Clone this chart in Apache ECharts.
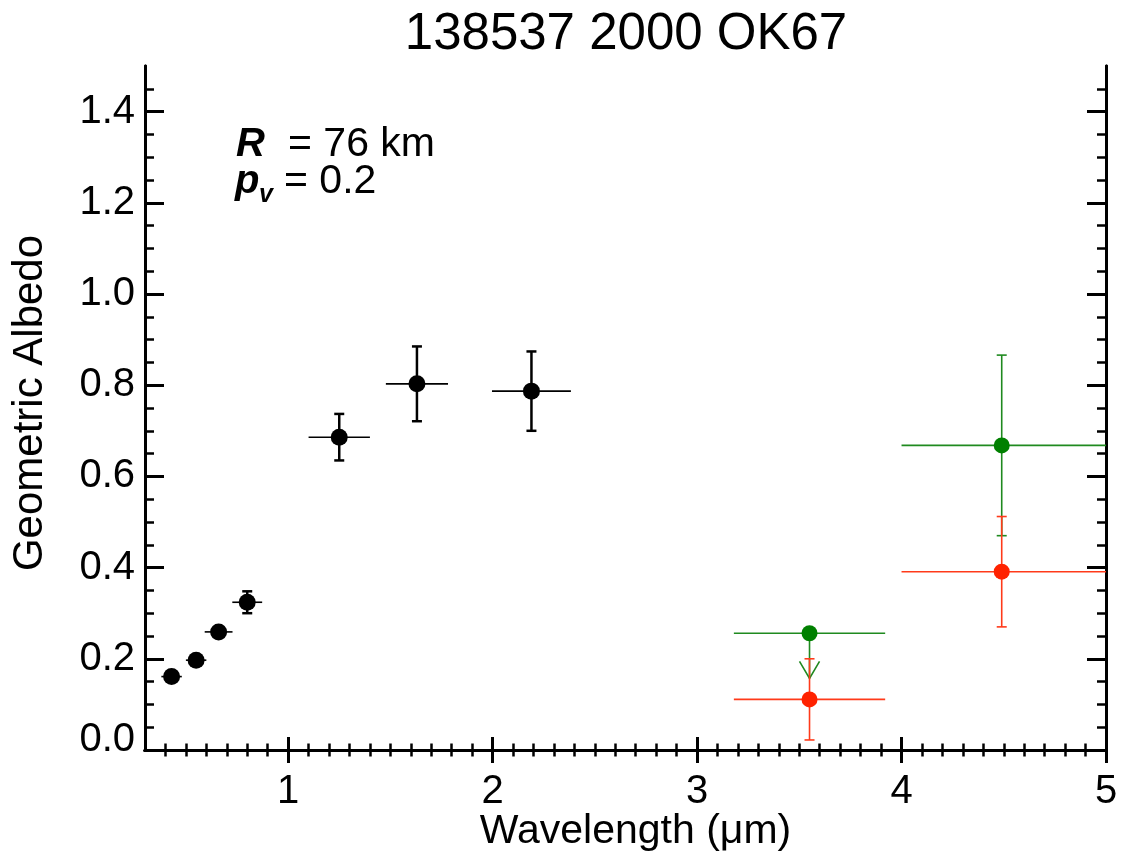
<!DOCTYPE html>
<html><head><meta charset="utf-8">
<script src="https://cdn.jsdelivr.net/npm/echarts@6/dist/echarts.min.js"></script>
<style>html,body{margin:0;padding:0;background:#fff}#c{width:1122px;height:859px}</style>
</head><body><div id="c"></div>
<script>
// ---- data ----
const titleText = '138537 2000 OK67';
const xAxisName = 'Wavelength (\u03bcm)';
const yAxisName = 'Geometric Albedo';
const xMajorTicks = [1, 2, 3, 4, 5];
const yMajorTicks = [0, 0.2, 0.4, 0.6, 0.8, 1.0, 1.2, 1.4];

// black: visible / near-IR albedo points
const blackWave    = [0.43, 0.55, 0.66, 0.80, 1.25, 1.63, 2.19];
const blackAlb     = [0.161, 0.197, 0.259, 0.324, 0.686, 0.803, 0.787];
const blackWaveErr = [0.05, 0.05, 0.068, 0.073, 0.15, 0.152, 0.193];
const blackAlbErr  = [0.008, 0.008, 0.01, 0.024, 0.051, 0.082, 0.087];

// IR bands (green / red)
const irWave   = [3.55, 4.49];
const irWaveLo = [3.18, 4.0];
const irWaveHi = [3.92, 5.0];
const greenAlb    = [0.256, 0.668];
const greenAlbErr = [0, 0.198];
const greenUpperLimitTip = [0.157, null];
const redAlb    = [0.111, 0.391];
const redAlbErr = [0.089, 0.121];

// minor tick positions
const xMinorTicks = [];
for (let i = 4; i < 50; i++) { if (i % 10 !== 0) xMinorTicks.push(i / 10); }
const yMinorTicks = [];
for (let i = 1; i < 30; i++) { if (i % 4 !== 0) yMinorTicks.push(i * 0.05); }

const FONT = 'Liberation Sans, Arial, Helvetica, sans-serif';
const GREEN = '#008000', GREEN_L = '#1f8a1f';
const RED = '#ff2200', RED_L = '#ff3a1a';

function errData(xs, ys, xlo, xhi, ylo, yhi) {
  return xs.map((x, i) => [x, ys[i], xlo[i], xhi[i], ylo[i], yhi[i]]);
}
function errRender(color, hw, vw, capW, capLw) {
  return function (params, api) {
    const x = api.value(0), y = api.value(1);
    const p = api.coord([x, y]);
    const pl = api.coord([api.value(2), y]);
    const ph = api.coord([api.value(3), y]);
    const children = [{
      type: 'line', shape: { x1: pl[0], y1: p[1], x2: ph[0], y2: p[1] },
      style: { stroke: color, lineWidth: hw }
    }];
    const ylo = api.value(4), yhi = api.value(5);
    if (yhi > ylo) {
      const pb = api.coord([x, ylo]), pt = api.coord([x, yhi]);
      children.push({ type: 'line', shape: { x1: p[0], y1: pt[1], x2: p[0], y2: pb[1] }, style: { stroke: color, lineWidth: vw } });
      children.push({ type: 'line', shape: { x1: p[0] - capW / 2, y1: pt[1], x2: p[0] + capW / 2, y2: pt[1] }, style: { stroke: color, lineWidth: capLw } });
      children.push({ type: 'line', shape: { x1: p[0] - capW / 2, y1: pb[1], x2: p[0] + capW / 2, y2: pb[1] }, style: { stroke: color, lineWidth: capLw } });
    }
    return { type: 'group', children };
  };
}

const blackErr = errData(blackWave, blackAlb,
  blackWave.map((x, i) => x - blackWaveErr[i]), blackWave.map((x, i) => x + blackWaveErr[i]),
  blackAlb.map((y, i) => y - blackAlbErr[i]), blackAlb.map((y, i) => y + blackAlbErr[i]));
const greenErr = errData(irWave, greenAlb, irWaveLo, irWaveHi,
  greenAlb.map((y, i) => y - greenAlbErr[i]), greenAlb.map((y, i) => y + greenAlbErr[i]));
const redErr = errData(irWave, redAlb, irWaveLo, irWaveHi,
  redAlb.map((y, i) => y - redAlbErr[i]), redAlb.map((y, i) => y + redAlbErr[i]));
const greenLimits = irWave.map((x, i) => [x, greenAlb[i], greenUpperLimitTip[i]]).filter(d => d[2] != null);

const XMIN = 0.3, XMAX = 5.0, YMIN = 0, YMAX = 1.5;
const AX = '#000';

function xAxisDef(pos, ticks, len, lw, withLabel) {
  return {
    type: 'value', min: XMIN, max: XMAX, position: pos,
    axisLine: { show: true, lineStyle: { color: AX, width: 3 } },
    axisTick: { show: true, inside: true, length: len, customValues: ticks, lineStyle: { color: AX, width: lw } },
    axisLabel: withLabel ? {
      show: true, customValues: ticks, color: '#000', fontFamily: FONT, fontSize: 40, margin: 22,
      formatter: v => String(Math.round(v))
    } : { show: false },
    splitLine: { show: false },
    name: withLabel ? xAxisName : '', nameLocation: 'middle', nameGap: 61, nameMoveOverlap: false,
    nameTextStyle: { color: '#000', fontFamily: FONT, fontSize: 41, padding: [0, 0, 0, 20] }
  };
}
function yAxisDef(pos, ticks, len, lw, withLabel) {
  return {
    type: 'value', min: YMIN, max: YMAX, position: pos,
    axisLine: { show: true, lineStyle: { color: AX, width: 3 } },
    axisTick: { show: true, inside: true, length: len, customValues: ticks, lineStyle: { color: AX, width: lw } },
    axisLabel: withLabel ? {
      show: true, customValues: ticks, color: '#000', fontFamily: FONT, fontSize: 40, margin: 10,
      formatter: v => (Math.abs(v) < 1e-9 ? '{z|0.0}' : v.toFixed(1)),
      rich: { z: { fontFamily: FONT, fontSize: 40, color: '#000', padding: [0, 0, 20, 0] } }
    } : { show: false },
    splitLine: { show: false },
    name: withLabel ? yAxisName : '', nameLocation: 'middle', nameGap: 94, nameRotate: 90, nameMoveOverlap: false,
    nameTextStyle: { color: '#000', fontFamily: FONT, fontSize: 42, padding: [0, 0, 0, 10] }
  };
}

const chart = echarts.init(document.getElementById('c'), null, { renderer: 'canvas' });
chart.setOption({
  backgroundColor: '#fff',
  animation: false,
  title: {
    text: titleText, left: 626, top: 9, textAlign: 'center', padding: 0,
    textStyle: { color: '#000', fontFamily: FONT, fontSize: 51, fontWeight: 'normal' }
  },
  grid: { left: 145, top: 66, right: 16, bottom: 109, containLabel: false, outerBoundsMode: 'none' },
  xAxis: [
    xAxisDef('bottom', xMajorTicks, 13, 3, true),
    xAxisDef('top', xMajorTicks, 13, 3, false),
    xAxisDef('bottom', xMinorTicks, 6.5, 2.5, false),
    xAxisDef('top', xMinorTicks, 6.5, 2.5, false)
  ],
  yAxis: [
    yAxisDef('left', yMajorTicks, 19, 3, true),
    yAxisDef('right', yMajorTicks, 19, 3, false),
    yAxisDef('left', yMinorTicks, 9, 2.5, false),
    yAxisDef('right', yMinorTicks, 9, 2.5, false)
  ],
  graphic: [
    { type: 'text', x: 236, y: 145, style: { text: 'R', fontFamily: FONT, fontSize: 40, fontWeight: 'bold', fontStyle: 'italic', fill: '#000', verticalAlign: 'middle' } },
    { type: 'text', x: 288, y: 145, style: { text: '= 76 km', fontFamily: FONT, fontSize: 41, fill: '#000', verticalAlign: 'middle' } },
    { type: 'text', x: 235, y: 182, style: { text: 'p', fontFamily: FONT, fontSize: 40, fontWeight: 'bold', fontStyle: 'italic', fill: '#000', verticalAlign: 'middle' } },
    { type: 'text', x: 259, y: 195, style: { text: 'v', fontFamily: FONT, fontSize: 25, fontWeight: 'bold', fontStyle: 'italic', fill: '#000', verticalAlign: 'middle' } },
    { type: 'text', x: 284, y: 182, style: { text: '= 0.2', fontFamily: FONT, fontSize: 41, fill: '#000', verticalAlign: 'middle' } }
  ],
  series: [
    { type: 'custom', xAxisIndex: 0, yAxisIndex: 0, data: greenErr, renderItem: errRender(GREEN_L, 1.6, 1.6, 10, 1.6), clip: true, z: 2 },
    {
      type: 'custom', xAxisIndex: 0, yAxisIndex: 0, data: greenLimits, clip: true, z: 2,
      renderItem: function (params, api) {
        const p = api.coord([api.value(0), api.value(1)]);
        const t = api.coord([api.value(0), api.value(2)]);
        return { type: 'group', children: [
          { type: 'line', shape: { x1: p[0], y1: p[1], x2: t[0], y2: t[1] }, style: { stroke: GREEN_L, lineWidth: 1.6 } },
          { type: 'polyline', shape: { points: [[t[0] - 10, t[1] - 17], [t[0], t[1]], [t[0] + 10, t[1] - 17]] }, style: { stroke: GREEN_L, lineWidth: 1.6, fill: null } }
        ] };
      }
    },
    { type: 'custom', xAxisIndex: 0, yAxisIndex: 0, data: redErr, renderItem: errRender(RED_L, 1.6, 1.6, 10, 1.6), clip: true, z: 3 },
    { type: 'custom', xAxisIndex: 0, yAxisIndex: 0, data: blackErr, renderItem: errRender('#000', 1.6, 2.5, 10, 2.5), clip: true, z: 3 },
    { type: 'scatter', xAxisIndex: 0, yAxisIndex: 0, data: blackWave.map((x, i) => [x, blackAlb[i]]), symbol: 'circle', symbolSize: 17, itemStyle: { color: '#000', opacity: 1 }, z: 5 },
    { type: 'scatter', xAxisIndex: 0, yAxisIndex: 0, data: irWave.map((x, i) => [x, greenAlb[i]]), symbol: 'circle', symbolSize: 16, itemStyle: { color: GREEN, opacity: 1 }, z: 5 },
    { type: 'scatter', xAxisIndex: 0, yAxisIndex: 0, data: irWave.map((x, i) => [x, redAlb[i]]), symbol: 'circle', symbolSize: 16, itemStyle: { color: RED, opacity: 1 }, z: 5 }
  ]
});
</script></body></html>
